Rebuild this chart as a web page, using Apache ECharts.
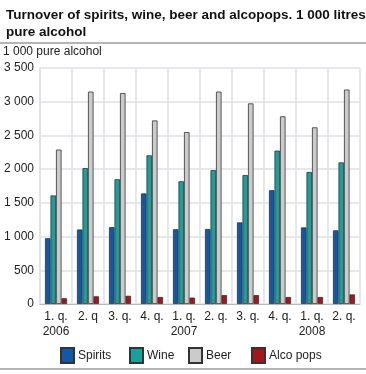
<!DOCTYPE html>
<html><head><meta charset="utf-8">
<script src="https://cdn.jsdelivr.net/npm/echarts@6/dist/echarts.min.js"></script>
<style>html,body{margin:0;padding:0;background:#fff}#c{width:366px;height:374px}</style>
</head><body><div id="c"></div>
<script>
const categories = ['1. q.\n2006','2. q','3. q.','4. q.','1. q.\n2007','2. q.','3. q.','4. q.','1. q.\n2008','2. q.'];
const spirits = [975, 1105, 1140, 1640, 1108, 1112, 1210, 1688, 1136, 1092];
const wine = [1610, 2015, 1850, 2205, 1820, 1985, 1912, 2275, 1958, 2100];
const beer = [2290, 3150, 3128, 2722, 2550, 3150, 2975, 2783, 2620, 3180];
const alcopops = [85, 114, 122, 104, 95, 132, 132, 104, 104, 142];
const seriesNames = ['Spirits','Wine','Beer','Alco pops'];
const yTicks = [0, 500, 1000, 1500, 2000, 2500, 3000, 3500];

const chart = echarts.init(document.getElementById('c'));
const font = 'Liberation Sans, Arial, sans-serif';
function bar(name, data, color){
  return {name, type:'bar', data, barGap:'0%', barCategoryGap:'31%',
    itemStyle:{color, borderColor:'#333', borderWidth:0.8}};
}
const legendLeft = [60, 129, 188, 251];
chart.setOption({
  animation:false,
  textStyle:{fontFamily:font},
  title:{text:'Turnover of spirits, wine, beer and alcopops. 1 000 litres\npure alcohol',
    left:1, top:2, textStyle:{fontSize:13.5, fontWeight:'bold', color:'#111', fontFamily:font, lineHeight:17}},
  graphic:[
    {type:'rect', z:100, shape:{x:0, y:42, width:366, height:2}, style:{fill:'#b4b4b4'}},
    {type:'text', z:100, left:3, top:46, style:{text:'1 000 pure alcohol', font:'12px '+font, fill:'#222'}},
    {type:'rect', z:100, shape:{x:0, y:368, width:366, height:2}, style:{fill:'#b4b4b4'}}
  ],
  legend: seriesNames.map((n,i)=>({top:347, left:legendLeft[i], padding:0, itemWidth:13, itemHeight:15, itemGap:0,
    icon:'rect',
    textStyle:{fontSize:12, color:'#222', fontFamily:font, padding:[0,0,0,-1]},
    data:[n]})),
  grid:{left:40, right:6, top:68, bottom:70},
  xAxis:{type:'category', data:categories,
    axisLine:{show:true, lineStyle:{color:'#bbb'}}, axisTick:{show:false},
    splitLine:{show:true, lineStyle:{color:'#dfe0e6', width:1.5}},
    axisLabel:{fontSize:12, color:'#222', lineHeight:15, margin:5, interval:0}},
  yAxis:{type:'value', min:0, max:3500, interval:500,
    axisLine:{show:true, lineStyle:{color:'#dfe0e6', width:1.5}}, axisTick:{show:false},
    splitLine:{lineStyle:{color:'#dfe0e6', width:1.5}},
    axisLabel:{fontSize:12, color:'#222', margin:6,
      formatter:v=>yTicks.includes(v)? String(v).replace(/\B(?=(\d{3})+(?!\d))/g,' '):''}},
  series:[
    bar('Spirits', spirits, '#1159a6'),
    bar('Wine', wine, '#17a09c'),
    bar('Beer', beer, '#cbcbcb'),
    bar('Alco pops', alcopops, '#a3161c')
  ]
});
</script></body></html>
